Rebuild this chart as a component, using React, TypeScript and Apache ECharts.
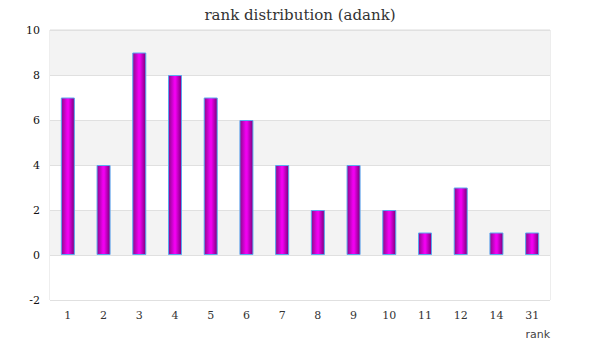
import React, { useEffect, useRef } from "react";
import * as echarts from "echarts";

const titleText = "rank distribution (adank)";
const categories = ["1", "2", "3", "4", "5", "6", "7", "8", "9", "10", "11", "12", "14", "31"];
const values = [7, 4, 9, 8, 7, 6, 4, 2, 4, 2, 1, 3, 1, 1];
const xName = "rank";

export default function App() {
  const ref = useRef<HTMLDivElement>(null);
  useEffect(() => {
    if (!ref.current) return;
    const chart = echarts.init(ref.current, undefined, { renderer: "svg" });
    chart.setOption({
      animation: false,
      backgroundColor: "#fff",
      title: {
        text: titleText,
        left: "center",
        top: 2,
        textStyle: { fontFamily: "DejaVu Serif", fontSize: 15, fontWeight: "normal", color: "#333" },
      },
      grid: {
        left: 50,
        right: 50,
        top: 30,
        bottom: 60,
        show: true,
        borderColor: "#dcdcdc",
        borderWidth: 1,
        backgroundColor: "transparent",
      },
      xAxis: {
        type: "category",
        data: categories,
        name: xName,
        nameLocation: "end",
        nameGap: 0,
        nameTextStyle: {
          fontFamily: "DejaVu Sans",
          fontSize: 11,
          color: "#444",
          align: "right",
          verticalAlign: "top",
          padding: [29, 0, 0, 0],
        },
        axisLine: { show: false, onZero: false },
        axisTick: { show: false },
        axisLabel: { fontFamily: "DejaVu Serif", fontSize: 11, color: "#333", margin: 10 },
      },
      yAxis: {
        type: "value",
        min: -2,
        max: 10,
        interval: 2,
        axisLine: { show: false },
        axisTick: { show: false },
        axisLabel: { fontFamily: "DejaVu Serif", fontSize: 11, color: "#111", margin: 10 },
        splitLine: { show: true, lineStyle: { color: "#e0e0e0" } },
        splitArea: { show: true, areaStyle: { color: ["#ffffff", "#f3f3f3"] } },
      },
      series: [
        {
          type: "bar",
          data: values,
          barWidth: 14,
          itemStyle: {
            borderColor: "#5aa8f0",
            borderWidth: 1,
            color: new echarts.graphic.LinearGradient(0, 0, 1, 0, [
              { offset: 0, color: "#8a0a8a" },
              { offset: 0.45, color: "#f000f0" },
              { offset: 0.55, color: "#f000f0" },
              { offset: 1, color: "#7a007a" },
            ]),
          },
        },
      ],
    });
    return () => chart.dispose();
  }, []);
  return (
    <div
      ref={ref}
      style={{ position: "fixed", left: 0, top: 0, width: 600, height: 360 }}
    />
  );
}
